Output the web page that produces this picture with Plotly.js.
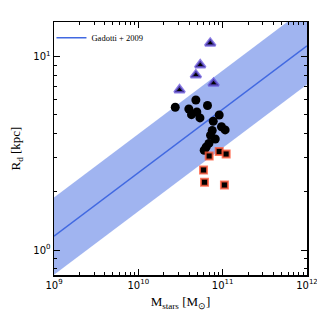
<!DOCTYPE html>
<html><head><meta charset="utf-8">
<script src="https://cdn.plot.ly/plotly-3.0.1.min.js"></script>
<style>html,body{margin:0;padding:0;background:#fff}#c{width:317px;height:317px}</style>
</head><body><div id="c"></div>
<script>
// Black circles
const circMass = [2.74e10,4.81e10,3.97e10,6.61e10,4.94e10,4.27e10,5.38e10,9.10e10,7.73e10,9.68e10,1.07e11,7.52e10,7.18e10,8.17e10,6.87e10,6.38e10,6.04e10];
const circRd   = [5.47,5.97,5.36,5.59,5.17,5.01,4.82,4.99,4.63,4.34,4.18,4.15,3.92,3.75,3.56,3.41,3.28];
// Triangles
const triMass = [7.12e10,5.42e10,4.81e10,7.80e10,3.08e10];
const triRd   = [11.73,9.06,8.04,7.28,6.73];
// Squares
const sqMass = [6.92e10,9.10e10,1.10e11,5.93e10,6.09e10,1.05e11];
const sqRd   = [3.06,3.23,3.14,2.59,2.24,2.17];
// Gadotti+2009 relation (log Rd = a + b*(log M - 9)), scatter in dex
const fitMass = [1e9, 1e12];
const fitA = 0.072, fitB = 0.328, fitScatter = 0.2;

const logRd = fitMass.map(m => fitA + fitB*(Math.log10(m)-9));
const fitRd = logRd.map(v => Math.pow(10, v));
const lowRd = logRd.map(v => Math.pow(10, v - fitScatter));
const upRd  = logRd.map(v => Math.pow(10, v + fitScatter));

const xMajor = [1e9,1e10,1e11,1e12];
const xMajorText = ['10<sup>9</sup>','10<sup>10</sup>','10<sup>11</sup>','10<sup>12</sup>'];
const yMajor = [1,10];
const yMajorText = ['10<sup>0</sup>','10<sup>1</sup>'];
const xMinor = [];
for (let e=9;e<12;e++) for (let k=2;k<10;k++) xMinor.push(k*Math.pow(10,e));
const yMinor = [0.8,0.9,2,3,4,5,6,7,8,9];

const traces = [
 {x: fitMass, y: lowRd, mode:'lines', line:{width:0}, hoverinfo:'skip', showlegend:false},
 {x: fitMass, y: upRd, mode:'lines', line:{width:0}, fill:'tonexty', fillcolor:'rgba(65,105,225,0.5)', hoverinfo:'skip', showlegend:false},
 {x: fitMass, y: fitRd, mode:'lines', line:{color:'#4169e1', width:1.5}, name:'Gadotti + 2009'},
 {x: circMass, y: circRd, mode:'markers', marker:{color:'black', size:9, symbol:'circle'}, showlegend:false},
 {x: triMass, y: triRd, mode:'markers', marker:{color:'black', size:9, symbol:'triangle-up', line:{color:'rgba(100,80,220,0.75)', width:2.5}}, showlegend:false},
 {x: sqMass, y: sqRd, mode:'markers', marker:{color:'black', size:7, symbol:'square', line:{color:'rgba(255,90,60,0.8)', width:2}}, showlegend:false}
];

const axCommon = {showgrid:false, zeroline:false, showline:true, linecolor:'black', linewidth:1.5, mirror:'ticks', ticks:'inside', ticklen:6, tickwidth:1, tickcolor:'black', ticklabeloverflow:'allow', automargin:false, tickfont:{family:'DejaVu Sans', size:10, color:'black'}};

const layout = {
 width:317, height:317,
 margin:{l:54, r:10, t:22, b:42},
 paper_bgcolor:'white', plot_bgcolor:'white',
 showlegend:true,
 legend:{x:-0.01, y:0.995, xanchor:'left', yanchor:'top', itemwidth:30, bgcolor:'rgba(0,0,0,0)', font:{family:'Liberation Serif', size:8.5, color:'black'}},
 xaxis: Object.assign({}, axCommon, {type:'log', range:[9,12], tickmode:'array', tickvals:xMajor, ticktext:xMajorText,
   minor:{tickmode:'array', tickvals:xMinor, ticks:'inside', ticklen:3, tickcolor:'black'},
   title:{text:'M<sub>stars</sub> [M<sub>\u2299</sub>]', font:{family:'Liberation Serif', size:13, color:'black'}, standoff:7}}),
 yaxis: Object.assign({}, axCommon, {type:'log', range:[Math.log10(0.743), Math.log10(15.1)], tickmode:'array', tickvals:yMajor, ticktext:yMajorText,
   minor:{tickmode:'array', tickvals:yMinor, ticks:'inside', ticklen:3, tickcolor:'black'},
   title:{text:'R<sub>d</sub> [kpc]', font:{family:'Liberation Serif', size:13, color:'black'}, standoff:9}})
};
Plotly.newPlot('c', traces, layout, {staticPlot:true, displayModeBar:false});
</script></body></html>
